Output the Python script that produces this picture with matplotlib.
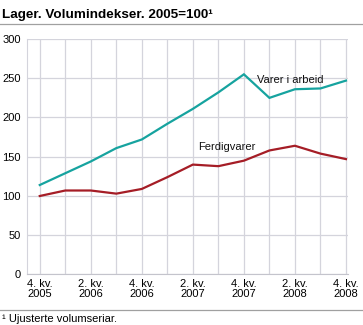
import matplotlib
matplotlib.use("Agg")
import matplotlib.pyplot as plt
from matplotlib.lines import Line2D

plt.rcParams['font.family'] = ['Liberation Sans', 'DejaVu Sans']

kvartal = ["4. kv.\n2005", "1. kv.\n2006", "2. kv.\n2006", "3. kv.\n2006", "4. kv.\n2006",
           "1. kv.\n2007", "2. kv.\n2007", "3. kv.\n2007", "4. kv.\n2007",
           "1. kv.\n2008", "2. kv.\n2008", "3. kv.\n2008", "4. kv.\n2008"]
varer_i_arbeid = [114, 129, 144, 161, 172, 192, 211, 232, 255, 225, 236, 237, 247]
ferdigvarer = [100, 107, 107, 103, 109, 124, 140, 138, 145, 158, 164, 154, 147]

teal = '#16a39f'
red = '#a51d26'
grid = '#d4d4dc'

fig = plt.figure(figsize=(3.63, 3.25), dpi=100)
ax = fig.add_axes([0.0744, 0.1554, 0.8843, 0.7246])

x = list(range(len(kvartal)))
ax.plot(x, varer_i_arbeid, color=teal, lw=1.6, solid_joinstyle='miter')
ax.plot(x, ferdigvarer, color=red, lw=1.6, solid_joinstyle='miter')

ax.text(8.5, 244, "Varer i arbeid", fontsize=8, color='#111111')
ax.text(6.2, 158, "Ferdigvarer", fontsize=8, color='#111111')

ax.set_xlim(-0.5, 12.08)
ax.set_ylim(0, 300)
ax.set_yticks(range(0, 301, 50))
ax.set_xticks(x, minor=True)
ax.set_xticks(x[::2])
ax.set_xticklabels(kvartal[::2], fontsize=8, linespacing=1.0)
ax.tick_params(axis='y', labelsize=8, length=0, pad=4.5)
ax.tick_params(axis='x', which='both', length=0, pad=3)
ax.grid(True, which='both', color=grid, lw=0.9)
ax.set_axisbelow(True)
for s in ['top', 'right']:
    ax.spines[s].set_visible(False)
ax.spines['left'].set_color(grid)
ax.spines['bottom'].set_color('#c4c4cc')

fig.text(0.006, 0.945, "Lager. Volumindekser. 2005=100\u00b9", fontsize=9.7, fontweight='bold',
         ha='left', va='baseline')
fig.add_artist(Line2D([0, 1], [1 - 24 / 325, 1 - 24 / 325], color='#a0a0a0', lw=0.9))
fig.add_artist(Line2D([0, 1], [1 - 310 / 325, 1 - 310 / 325], color='#a0a0a0', lw=0.9))
fig.text(0.006, 1 - 319 / 325, "\u00b9 Ujusterte volumseriar.", fontsize=8, ha='left', va='center')

fig.savefig("out.png", dpi=100)
